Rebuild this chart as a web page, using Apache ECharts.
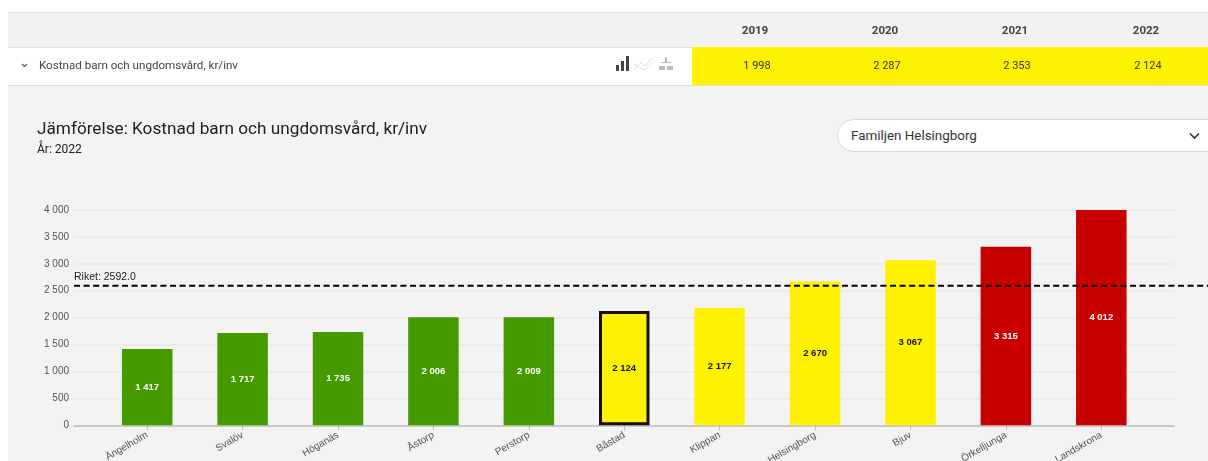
<!DOCTYPE html>
<html lang="sv">
<head>
<meta charset="utf-8">
<title>Jämförelse: Kostnad barn och ungdomsvård</title>
<script src="https://cdn.jsdelivr.net/npm/echarts@6/dist/echarts.min.js"></script>
<style>
html,body{margin:0;padding:0;background:#fff;overflow:hidden}
#page{position:relative;width:1208px;height:461px;overflow:hidden;background:#fff;font-family:Roboto,sans-serif}
#chart{position:absolute;left:8px;top:85px;width:1200px;height:376px}
.abs{position:absolute}
#head{left:8px;top:12px;width:1200px;height:35px;background:#f2f2f2;border-top:1px solid #e2e2e2;box-sizing:border-box}
#row{left:8px;top:47px;width:1200px;height:39px;background:#fff;border-top:1px solid #e2e2e2;border-bottom:1px solid #dcdcdc;box-sizing:border-box}
#yellow{left:692px;top:47px;width:516px;height:38px;background:#fff200}
.yr{top:23px;width:60px;text-align:center;font-size:11.5px;font-weight:700;color:#444}
.val{top:59px;width:60px;text-align:center;font-size:11px;color:#333}
#rowlabel{left:39px;top:58px;font-size:11.6px;color:#444}
#select{left:837px;top:119px;width:400px;height:33px;border:1px solid #d8d8d8;border-radius:17px;background:#fff;box-sizing:border-box;font-size:13.4px;color:#333;line-height:31px;padding-left:13px}
</style>
</head>
<body>
<div id="page">
  <div id="chart"></div>
  <div class="abs" id="head"></div>
  <div class="abs" id="row"></div>
  <div class="abs" id="yellow"></div>
  <div id="cells"></div>
  <svg class="abs" style="left:21px;top:63px" width="7" height="5"><path d="M1 1 L3.5 3.5 L6 1" fill="none" stroke="#555" stroke-width="1.1"/></svg>
  <div class="abs" id="rowlabel">Kostnad barn och ungdomsvård, kr/inv</div>
  <svg class="abs" style="left:614px;top:55px" width="66" height="18">
    <g fill="#444"><rect x="2" y="10" width="3" height="6"/><rect x="7" y="6" width="3" height="10"/><rect x="12" y="1" width="3" height="15"/></g>
    <path d="M20 15 L27 7 L31 11 L38 3 M20 9 L26 13 L31 15 L38 8" fill="none" stroke="#ddd" stroke-width="1"/>
    <g fill="#bbb"><rect x="45" y="11" width="6" height="4"/><rect x="53" y="11" width="6" height="4"/><rect x="51" y="2" width="2" height="5"/><rect x="47" y="7" width="10" height="1"/></g>
  </svg>
  <div class="abs" id="select">Familjen Helsingborg</div>
  <svg class="abs" style="left:1189px;top:132px" width="11" height="8"><path d="M1 1.5 L5.5 6 L10 1.5" fill="none" stroke="#333" stroke-width="1.6"/></svg>
</div>
<script>
const years = ['2019', '2020', '2021', '2022'];
const yearValues = ['1 998', '2 287', '2 353', '2 124'];
const categories = ['Ängelholm', 'Svalöv', 'Höganäs', 'Åstorp', 'Perstorp', 'Båstad', 'Klippan', 'Helsingborg', 'Bjuv', 'Örkelljunga', 'Landskrona'];
const values = [1417, 1717, 1735, 2006, 2009, 2124, 2177, 2670, 3067, 3315, 4012];
const levels = ['g', 'g', 'g', 'g', 'g', 'y', 'y', 'y', 'y', 'r', 'r'];
const selected = 'Båstad';
const riket = 2592;
const riketText = 'Riket: 2592.0';

const colors = {g: '#459a00', y: '#fff200', r: '#c80000'};
const labelColors = {g: '#ffffff', y: '#111111', r: '#ffffff'};
const fmt = v => String(v).replace(/\B(?=(\d{3})+$)/g, ' ');

const cells = document.getElementById('cells');
const centers = [755, 885, 1015, 1146];
years.forEach((y, i) => {
  cells.insertAdjacentHTML('beforeend',
    `<div class="abs yr" style="left:${centers[i]-30}px">${y}</div>` +
    `<div class="abs val" style="left:${centers[i]-28}px">${yearValues[i]}</div>`);
});

const ox = 8, oy = 85;
const plotTop = 210 - oy, plotH = 215.3;
const yBase = {type: 'value', min: 0, max: 4000, interval: 500};
const chart = echarts.init(document.getElementById('chart'), null, {renderer: 'canvas'});
chart.setOption({
  backgroundColor: '#f3f3f3',
  animation: false,
  title: {
    text: 'Jämförelse: Kostnad barn och ungdomsvård, kr/inv',
    subtext: 'År: 2022',
    left: 37 - ox, top: 121 - oy, itemGap: 6, padding: 0,
    textStyle: {fontFamily: 'Roboto', fontSize: 17.2, fontWeight: 400, color: '#222'},
    subtextStyle: {fontFamily: 'Roboto', fontSize: 12, color: '#222'}
  },
  grid: [
    {left: 74 - ox, width: 1100, top: plotTop, height: plotH, outerBoundsMode: 'none'},
    {left: 99.5 - ox, width: 1049.5, top: plotTop, height: plotH, outerBoundsMode: 'none'},
    {left: 74 - ox, width: 1134, top: plotTop, height: plotH, outerBoundsMode: 'none'}
  ],
  xAxis: [
    {gridIndex: 0, type: 'value', min: 0, max: 1, axisLabel: {show: false}, axisTick: {show: false},
     splitLine: {show: false}, axisLine: {show: true, lineStyle: {color: '#bdbdbd', width: 1.5}}},
    {gridIndex: 1, type: 'category', data: categories,
     axisLine: {show: false}, axisTick: {show: true, alignWithLabel: true, length: 5, lineStyle: {color: '#bdbdbd'}},
     axisLabel: {rotate: 30, interval: 0, margin: 9, fontFamily: 'Liberation Sans', fontSize: 10, color: '#555'}},
    {gridIndex: 2, type: 'value', min: 0, max: 1, show: false}
  ],
  yAxis: [
    {...yBase, gridIndex: 0, axisLine: {show: false}, axisTick: {show: false},
     axisLabel: {formatter: fmt, margin: 5, fontFamily: 'Liberation Sans', fontSize: 10, color: '#555'},
     splitLine: {lineStyle: {color: '#e8e8e8', width: 1.5}}},
    {...yBase, gridIndex: 1, show: false},
    {...yBase, gridIndex: 2, show: false}
  ],
  series: [
    {
      type: 'bar', xAxisIndex: 1, yAxisIndex: 1, barWidth: 50.5,
      data: categories.map((c, i) => ({
        value: values[i],
        itemStyle: c === selected
          ? {color: colors[levels[i]], borderColor: '#111', borderWidth: 3}
          : {color: colors[levels[i]]},
        label: {color: labelColors[levels[i]]}
      })),
      label: {show: true, position: 'inside', formatter: p => fmt(p.value),
              fontFamily: 'Liberation Sans', fontSize: 9.5, fontWeight: 700}
    },
    {
      type: 'line', xAxisIndex: 2, yAxisIndex: 2, symbol: 'circle', symbolSize: 0, showSymbol: true, silent: true, z: 5,
      lineStyle: {color: '#000', width: 2, type: [6, 3.6]},
      data: [
        {value: [0, riket], label: {show: true, position: 'top', align: 'left', distance: 3, formatter: riketText,
          fontFamily: 'Liberation Sans', fontSize: 10.5, color: '#222'}},
        {value: [1, riket]}
      ]
    }
  ]
});
</script>
</body>
</html>
